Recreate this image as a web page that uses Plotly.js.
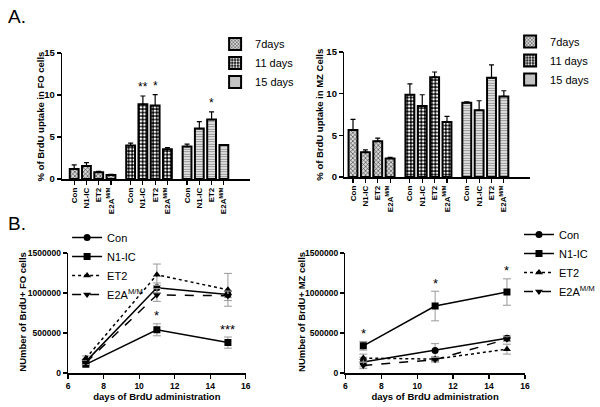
<!DOCTYPE html>
<html>
<head>
<meta charset="utf-8">
<script src="https://cdn.plot.ly/plotly-3.0.1.min.js"></script>
<style>html,body{margin:0;padding:0;background:#fff;}#chart{width:600px;height:407px;}</style>
</head>
<body>
<div id="chart"></div>
<script>
// ---------- data ----------
const genotypes = ['Con', 'N1-IC', 'ET2', 'E2A<sup>M/M</sup>'];
const dayLabels = ['7days', '11 days', '15 days'];

// Panel A left: % BrdU uptake in FO cells
const fo7 = [1.2, 1.55, 0.8, 0.48];
const fo11 = [3.98, 8.9, 8.75, 3.54];
const fo15 = [3.86, 6.0, 7.08, 4.05];
const foErr7 = [0.47, 0.4, 0.1, 0.08];
const foErr11 = [0.28, 0.98, 1.3, 0.2];
const foErr15 = [0.28, 0.84, 0.92, 0.06];
const foSig7 = ['', '', '', ''];
const foSig11 = ['', '**', '*', ''];
const foSig15 = ['', '', '*', ''];

// Panel A right: % BrdU uptake in MZ cells
const mz7 = [5.65, 2.98, 4.3, 2.23];
const mz11 = [9.87, 8.52, 11.98, 6.6];
const mz15 = [8.91, 8.0, 11.9, 9.67];
const mzErr7 = [1.27, 0.28, 0.36, 0.12];
const mzErr11 = [1.31, 1.35, 0.62, 0.68];
const mzErr15 = [0.12, 1.15, 1.55, 0.68];

// Panel B: number of BrdU+ cells vs days of BrdU administration
const days = [7, 11, 15];
const lineNames = ['Con', 'N1-IC', 'ET2', 'E2A<sup>M/M</sup>'];
const foCon = [142000, 1065000, 982000];
const foN1 = [108000, 540000, 380000];
const foET2 = [184000, 1228000, 1040000];
const foE2A = [130000, 975000, 965000];
const foConErr = [30000, 60000, 40000];
const foN1Err = [20000, 75000, 70000];
const foET2Err = [30000, 134000, 205000];
const foE2AErr = [25000, 80000, 60000];
const foN1Sig = ['', '*', '***'];

const mzCon = [137000, 282000, 435000];
const mzN1 = [340000, 837000, 1012000];
const mzET2 = [186000, 174000, 298000];
const mzE2A = [95000, 166000, 423000];
const mzConErr = [60000, 85000, 30000];
const mzN1Err = [54000, 185000, 165000];
const mzET2Err = [50000, 30000, 62000];
const mzE2AErr = [40000, 30000, 30000];
const mzN1Sig = ['*', '*', '*'];

// axis titles
const titleFO = '% of BrdU uptake in FO cells';
const titleMZ = '% of BrdU uptake in MZ Cells';
const titleNFO = 'NUmber of BrdU+ FO cells';
const titleNMZ = 'NUmber of BrdU+ MZ cells';
const titleDays = 'days of BrdU administration';

// ---------- styling ----------
const FONT = 'Liberation Sans, Arial, Helvetica, sans-serif';
const GAP = 4.6;
const patterns = [
  {shape: 'x', fgcolor: '#333', bgcolor: '#d8d8d8', size: 3, solidity: 0.35},
  {shape: '.', fgcolor: '#fff', bgcolor: '#000', size: 3.5, solidity: 0.45},
  {shape: '-', fgcolor: '#888', bgcolor: '#fff', size: 2.5, solidity: 0.5}
];
const pos = (g, i) => g * GAP + i;

function barTrace(vals, errs, g, xa, ya, leg) {
  return {
    type: 'bar', name: dayLabels[g], xaxis: xa, yaxis: ya, legend: leg,
    x: vals.map((_, i) => pos(g, i)), y: vals, width: 0.72,
    marker: {color: patterns[g].bgcolor, pattern: patterns[g], line: {color: '#000', width: 2}},
    error_y: {type: 'data', symmetric: false, array: errs, arrayminus: errs.map(() => 0),
              color: '#000', thickness: 1.2, width: 2.5},
    hoverinfo: 'skip'
  };
}

const lineStyles = [
  {symbol: 'circle', dash: 'solid'},
  {symbol: 'square', dash: 'solid'},
  {symbol: 'triangle-up', dash: 'dot'},
  {symbol: 'triangle-down', dash: 'dash'}
];
function lineTrace(vals, errs, k, xa, ya, leg) {
  return {
    type: 'scatter', mode: 'lines+markers', name: lineNames[k], xaxis: xa, yaxis: ya, legend: leg,
    x: days, y: vals,
    line: {color: '#000', width: 1.5, dash: lineStyles[k].dash},
    marker: {color: '#000', symbol: lineStyles[k].symbol, size: 7},
    error_y: {type: 'data', array: errs, color: '#999', thickness: 1, width: 4},
    hoverinfo: 'skip'
  };
}

const data = [
  barTrace(fo7, foErr7, 0, 'x', 'y', 'legend'),
  barTrace(fo11, foErr11, 1, 'x', 'y', 'legend'),
  barTrace(fo15, foErr15, 2, 'x', 'y', 'legend'),
  barTrace(mz7, mzErr7, 0, 'x2', 'y2', 'legend2'),
  barTrace(mz11, mzErr11, 1, 'x2', 'y2', 'legend2'),
  barTrace(mz15, mzErr15, 2, 'x2', 'y2', 'legend2'),
  lineTrace(foCon, foConErr, 0, 'x3', 'y3', 'legend3'),
  lineTrace(foN1, foN1Err, 1, 'x3', 'y3', 'legend3'),
  lineTrace(foET2, foET2Err, 2, 'x3', 'y3', 'legend3'),
  lineTrace(foE2A, foE2AErr, 3, 'x3', 'y3', 'legend3'),
  lineTrace(mzCon, mzConErr, 0, 'x4', 'y4', 'legend4'),
  lineTrace(mzN1, mzN1Err, 1, 'x4', 'y4', 'legend4'),
  lineTrace(mzET2, mzET2Err, 2, 'x4', 'y4', 'legend4'),
  lineTrace(mzE2A, mzE2AErr, 3, 'x4', 'y4', 'legend4')
];

const px = v => v / 600;
const py = v => 1 - v / 407;

// ---------- annotations ----------
const titleFont = {family: FONT, size: 9.5, color: '#000', weight: 'bold'};
const annotations = [
  {text: 'A.', xref: 'paper', yref: 'paper', x: px(6), y: py(17), xanchor: 'left', yanchor: 'middle',
   showarrow: false, font: {family: FONT, size: 19, color: '#000'}},
  {text: 'B.', xref: 'paper', yref: 'paper', x: px(6), y: py(223), xanchor: 'left', yanchor: 'middle',
   showarrow: false, font: {family: FONT, size: 19, color: '#000'}},
  // y-axis titles (rotated)
  {text: titleFO, xref: 'paper', yref: 'paper', x: px(41), y: py(116), xanchor: 'center', yanchor: 'middle',
   textangle: -90, showarrow: false, font: titleFont},
  {text: titleMZ, xref: 'paper', yref: 'paper', x: px(323), y: py(115), xanchor: 'center', yanchor: 'middle',
   textangle: -90, showarrow: false, font: titleFont},
  {text: titleNFO, xref: 'paper', yref: 'paper', x: px(22), y: py(312), xanchor: 'center', yanchor: 'middle',
   textangle: -90, showarrow: false, font: titleFont},
  {text: titleNMZ, xref: 'paper', yref: 'paper', x: px(305), y: py(312), xanchor: 'center', yanchor: 'middle',
   textangle: -90, showarrow: false, font: titleFont}
];
[[fo7, foErr7, foSig7], [fo11, foErr11, foSig11], [fo15, foErr15, foSig15]].forEach(([v, e, s], g) => {
  s.forEach((lab, i) => {
    if (lab) annotations.push({text: lab, xref: 'x', yref: 'y', x: pos(g, i), y: v[i] + e[i],
      yanchor: 'middle', yshift: 9, showarrow: false, font: {family: FONT, size: 12, color: '#000'}});
  });
});
foN1Sig.forEach((lab, i) => {
  if (lab) annotations.push({text: lab, xref: 'x3', yref: 'y3', x: days[i], y: foN1[i] + foN1Err[i],
    yanchor: 'middle', yshift: 8, showarrow: false, font: {family: FONT, size: 13, color: '#000'}});
});
mzN1Sig.forEach((lab, i) => {
  if (lab) annotations.push({text: lab, xref: 'x4', yref: 'y4', x: days[i], y: mzN1[i] + mzN1Err[i],
    yanchor: 'middle', yshift: 8, showarrow: false, font: {family: FONT, size: 13, color: '#000'}});
});

// ---------- axes ----------
const tickVals = [];
const tickText = [];
for (let g = 0; g < 3; g++) genotypes.forEach((lab, i) => { tickVals.push(pos(g, i)); tickText.push(lab); });

function barX(dom, rng, anchor) {
  return {domain: dom, range: rng, anchor: anchor, tickmode: 'array', tickvals: tickVals, ticktext: tickText,
    tickangle: -90, ticks: 'outside', ticklen: 4, tickwidth: 1.2, tickcolor: '#000',
    showline: true, linecolor: '#000', linewidth: 1.5, showgrid: false, zeroline: false,
    tickfont: {family: FONT, size: 8, color: '#000', weight: 'bold'}};
}
function barY(dom, anchor) {
  return {domain: dom, range: [0, 15], tickvals: [0, 5, 10, 15], anchor: anchor,
    ticks: 'outside', ticklen: 4, tickwidth: 1.2, tickcolor: '#000',
    showline: true, linecolor: '#000', linewidth: 1.5, showgrid: false, zeroline: false,
    tickfont: {family: FONT, size: 9.5, color: '#000', weight: 'bold'}};
}
function lineX(dom, anchor) {
  return {domain: dom, range: [6, 16], tickvals: [6, 8, 10, 12, 14, 16], anchor: anchor,
    ticks: 'outside', ticklen: 4, tickwidth: 1.2, tickcolor: '#000',
    showline: true, linecolor: '#000', linewidth: 1.5, showgrid: false, zeroline: false,
    tickfont: {family: FONT, size: 8.5, color: '#000', weight: 'bold'},
    title: {text: titleDays, font: titleFont, standoff: 0}};
}
function lineY(dom, anchor) {
  return {domain: dom, range: [0, 1500000], tickvals: [0, 500000, 1000000, 1500000], tickformat: 'd', anchor: anchor,
    ticks: 'outside', ticklen: 4, tickwidth: 1.2, tickcolor: '#000',
    showline: true, linecolor: '#000', linewidth: 1.5, showgrid: false, zeroline: false,
    tickfont: {family: FONT, size: 8.5, color: '#000', weight: 'bold'}};
}

function legendAt(x, y, size) {
  return {x: px(x), y: py(y), xanchor: 'left', yanchor: 'top', bgcolor: 'rgba(0,0,0,0)',
    font: {family: FONT, size: size, color: '#000'}, borderwidth: 0};
}

const layout = {
  width: 600, height: 407,
  margin: {l: 0, r: 0, t: 0, b: 0},
  paper_bgcolor: '#fff', plot_bgcolor: '#fff',
  barmode: 'overlay',
  showlegend: true,
  font: {family: FONT, color: '#000'},
  xaxis: barX([px(63), px(253)], [-0.98, 14.3], 'y'),
  yaxis: barY([py(179), py(53)], 'x'),
  xaxis2: barX([px(349), px(537)], [-0.7, 14.3], 'y2'),
  yaxis2: barY([py(177), py(52)], 'x2'),
  xaxis3: lineX([px(69), px(249)], 'y3'),
  yaxis3: lineY([py(373), py(253)], 'x3'),
  xaxis4: lineX([px(350), px(532)], 'y4'),
  yaxis4: lineY([py(373), py(253)], 'x4'),
  legend: legendAt(218, 29.5, 11),
  legend2: legendAt(517, 27, 11),
  legend3: legendAt(68, 223, 11),
  legend4: legendAt(526, 220, 11),
  annotations: annotations
};

Plotly.newPlot('chart', data, layout, {staticPlot: true, displayModeBar: false});
</script>
</body>
</html>
